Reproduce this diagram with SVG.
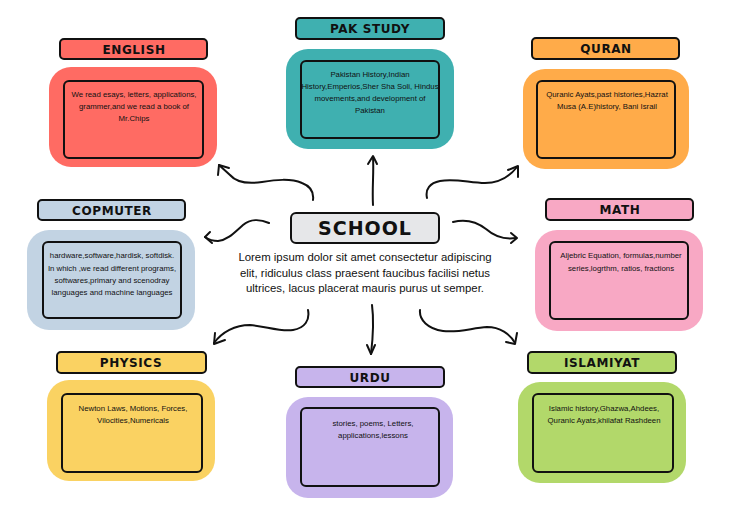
<svg xmlns="http://www.w3.org/2000/svg" width="730" height="516" viewBox="0 0 730 516">
<style>
.bar{stroke:#111;stroke-width:2;}
.inner{fill:none;stroke:#111;stroke-width:2;}
.title{font-family:"DejaVu Sans","Liberation Sans",sans-serif;font-weight:bold;font-size:12px;letter-spacing:0.6px;text-anchor:middle;fill:#111;}
.body{font-family:"Liberation Sans","DejaVu Sans",sans-serif;font-size:7.8px;text-anchor:middle;fill:#111;}
.center{font-family:"Liberation Sans","DejaVu Sans",sans-serif;font-size:11.4px;text-anchor:middle;fill:#111;}
.arrow{fill:none;stroke:#111;stroke-width:2;stroke-linecap:round;stroke-linejoin:round;}
</style>
<rect width="730" height="516" fill="#ffffff"/>

<g id="connectors">
  <path class="arrow" d="M313,200 C314,192 310,186 302,183 C290,178 275,180 262,182 C248,184 236,182 230,175 L219,165"/>
  <path class="arrow" d="M218,175 L219,165 L229,168"/>
  <path class="arrow" d="M373,205 C372,188 374,172 373,157"/>
  <path class="arrow" d="M368,164 L373,156 L377,164"/>
  <path class="arrow" d="M427,198 C425,189 430,183 440,181 C455,178 470,183 485,183 C500,183 510,176 517,167"/>
  <path class="arrow" d="M508,170 L518,166 L518,177"/>
  <path class="arrow" d="M269,223 C260,219 250,219 243,225 C235,232 228,240 218,241 C212,241 208,239 205,237"/>
  <path class="arrow" d="M210,232 L205,237 L212,243"/>
  <path class="arrow" d="M453,222 C465,219 477,222 486,229 C494,236 503,240 516,238"/>
  <path class="arrow" d="M511,233 L517,238 L511,243"/>
  <path class="arrow" d="M308,310 C310,320 305,328 293,330 C280,332 265,326 250,325 C235,325 222,332 214,343"/>
  <path class="arrow" d="M215,333 L214,344 L225,340"/>
  <path class="arrow" d="M372,305 C374,320 373,337 371,354"/>
  <path class="arrow" d="M367,345 L371,354 L375,345"/>
  <path class="arrow" d="M420,310 C419,320 428,329 443,331 C458,333 472,328 487,327 C500,327 510,334 515,343"/>
  <path class="arrow" d="M506,342 L515,344 L517,333"/>
</g>

<g id="school">
  <rect class="bar" x="291" y="213" width="148" height="30" rx="5" fill="#e6e7e9"/>
  <text x="365" y="235" font-family="DejaVu Sans, Liberation Sans, sans-serif" font-weight="bold" font-size="19" letter-spacing="1" text-anchor="middle" fill="#111">SCHOOL</text>
  <text class="center" x="365" y="261">Lorem ipsum dolor sit amet consectetur adipiscing</text>
  <text class="center" x="365" y="277">elit, ridiculus class praesent faucibus facilisi netus</text>
  <text class="center" x="365" y="292">ultrices, lacus placerat mauris purus ut semper.</text>
</g>

<g id="english">
  <rect class="bar" x="60" y="39" width="147" height="20" rx="4" fill="#ff6b63"/>
  <text class="title" x="134" y="54">ENGLISH</text>
  <rect x="49" y="67" width="168" height="100" rx="22" fill="#ff6b63"/>
  <rect class="inner" x="64" y="81" width="139" height="77" rx="5"/>
  <text class="body" x="134" y="97">We read esays, letters, applications,</text>
  <text class="body" x="134" y="109">grammer,and we read a book of</text>
  <text class="body" x="134" y="121">Mr.Chips</text>
</g>

<g id="pakstudy">
  <rect class="bar" x="296" y="18" width="148" height="21" rx="4" fill="#3fb0b0"/>
  <text class="title" x="370" y="33">PAK STUDY</text>
  <rect x="286" y="49" width="168" height="100" rx="22" fill="#3fb0b0"/>
  <rect class="inner" x="301" y="61" width="138" height="77" rx="5"/>
  <text class="body" x="370" y="77">Pakistan History,Indian</text>
  <text class="body" x="370" y="89">History,Emperios,Sher Sha Soli, Hindus</text>
  <text class="body" x="370" y="101">movements,and development of</text>
  <text class="body" x="370" y="113">Pakistan</text>
</g>

<g id="quran">
  <rect class="bar" x="532" y="38" width="147" height="21" rx="4" fill="#ffab49"/>
  <text class="title" x="606" y="53">QURAN</text>
  <rect x="523" y="69" width="166" height="100" rx="22" fill="#ffab49"/>
  <rect class="inner" x="537" y="81" width="138" height="77" rx="5"/>
  <text class="body" x="607" y="97">Quranic Ayats,past histories,Hazrat</text>
  <text class="body" x="607" y="109">Musa (A.E)history, Bani Israil</text>
</g>

<g id="computer">
  <rect class="bar" x="38" y="200" width="147" height="20" rx="4" fill="#c2d3e3"/>
  <text class="title" x="112" y="215">COPMUTER</text>
  <rect x="27" y="230" width="168" height="100" rx="22" fill="#c2d3e3"/>
  <rect class="inner" x="43" y="242" width="138" height="76" rx="5"/>
  <text class="body" x="112" y="258">hardware,software,hardisk, softdisk.</text>
  <text class="body" x="112" y="271">In which ,we read different programs,</text>
  <text class="body" x="112" y="283">softwares,primary and scenodray</text>
  <text class="body" x="112" y="295">languages and machine languages</text>
</g>

<g id="math">
  <rect class="bar" x="546" y="199" width="147" height="21" rx="4" fill="#f8a8c4"/>
  <text class="title" x="620" y="214">MATH</text>
  <rect x="535" y="230" width="168" height="101" rx="22" fill="#f8a8c4"/>
  <rect class="inner" x="550" y="242" width="138" height="77" rx="5"/>
  <text class="body" x="621" y="258">Aljebric Equation, formulas,number</text>
  <text class="body" x="621" y="271">series,logrthm, ratios, fractions</text>
</g>

<g id="physics">
  <rect class="bar" x="57" y="352" width="149" height="21" rx="4" fill="#fad262"/>
  <text class="title" x="131" y="367">PHYSICS</text>
  <rect x="47" y="380" width="168" height="101" rx="22" fill="#fad262"/>
  <rect class="inner" x="62" y="394" width="140" height="78" rx="5"/>
  <text class="body" x="133" y="411">Newton Laws, Motions, Forces,</text>
  <text class="body" x="133" y="423">Vilocities,Numericals</text>
</g>

<g id="urdu">
  <rect class="bar" x="296" y="367" width="148" height="20" rx="4" fill="#c7b4ec"/>
  <text class="title" x="370" y="382">URDU</text>
  <rect x="286" y="397" width="167" height="101" rx="22" fill="#c7b4ec"/>
  <rect class="inner" x="301" y="408" width="138" height="78" rx="5"/>
  <text class="body" x="373" y="426">stories, poems, Letters,</text>
  <text class="body" x="373" y="438">applications,lessons</text>
</g>

<g id="islamiyat">
  <rect class="bar" x="528" y="352" width="148" height="21" rx="4" fill="#b2d86a"/>
  <text class="title" x="602" y="367">ISLAMIYAT</text>
  <rect x="518" y="382" width="168" height="101" rx="22" fill="#b2d86a"/>
  <rect class="inner" x="533" y="394" width="140" height="78" rx="5"/>
  <text class="body" x="604" y="411">Islamic history,Ghazwa,Ahdees,</text>
  <text class="body" x="604" y="423">Quranic Ayats,khilafat Rashdeen</text>
</g>
</svg>
